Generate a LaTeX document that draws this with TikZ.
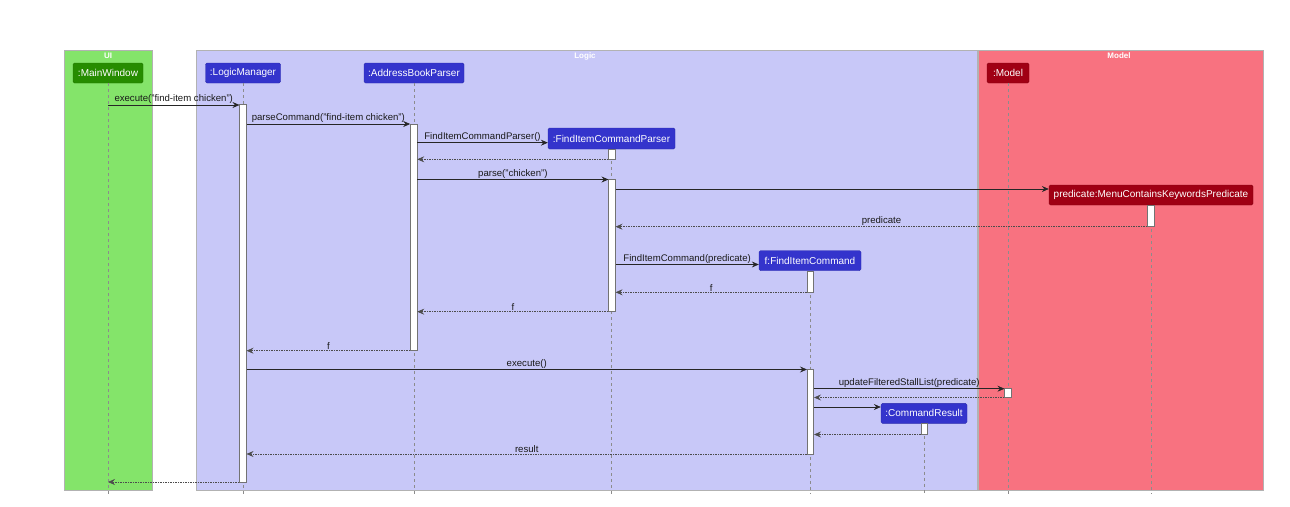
\documentclass[tikz,border=0pt]{standalone}
\usepackage{fontspec}
\setmainfont{Liberation Sans}
\usetikzlibrary{arrows.meta}
\definecolor{uifill}{RGB}{132,228,106}
\definecolor{logicfill}{RGB}{200,200,248}
\definecolor{modelfill}{RGB}{248,114,128}
\definecolor{uipart}{RGB}{38,140,0}
\definecolor{logicpart}{RGB}{52,52,204}
\definecolor{modelpart}{RGB}{160,0,20}
\begin{document}
\begin{tikzpicture}[x=1pt,y=-1pt,
  frame/.style={draw=black!30, line width=0.8pt},
  ftitle/.style={text=white, font=\fontsize{8}{9}\selectfont\bfseries, inner sep=0pt},
  part/.style={fill=#1, draw=#1!85!black, text=white, rounded corners=1.5pt, minimum height=20pt, inner xsep=2pt, inner ysep=0pt, font=\fontsize{10}{11}\selectfont},
  life/.style={draw=black!45, dash pattern=on 3pt off 3pt, line width=0.5pt},
  act/.style={draw=black!55, fill=white, minimum width=6.5pt, inner sep=0pt, line width=0.6pt},
  msg/.style={draw=black!85, line width=0.6pt, -{Stealth[length=7pt,width=6pt,inset=2.5pt]}},
  ret/.style={msg, dash pattern=on 1.5pt off 1pt, draw=black!70},
  lbl/.style={above, inner sep=1pt, text=black!90, font=\fontsize{9.6}{11}\selectfont}
]
\useasboundingbox (0,0) rectangle (1290,506);
\fill[white] (0,0) rectangle (1290,506);
% frames
\filldraw[fill=uifill, frame] (64.5,50) rectangle (152,490);
\filldraw[fill=logicfill, frame] (196,50) rectangle (977,490);
\filldraw[fill=modelfill, frame] (978,50) rectangle (1263,490);
\node[ftitle] (tUI) at (108,56) {UI};
\node[ftitle] (tLogic) at (585,56) {Logic};
\node[ftitle] (tModel) at (1119,56) {Model};
% participants
\node[part=uipart, minimum width=70pt] (mw) at (108,73) {:MainWindow};
\node[part=logicpart, minimum width=75pt] (lm) at (243,73) {:LogicManager};
\node[part=logicpart, minimum width=100pt] (abp) at (414,73) {:AddressBookParser};
\node[part=logicpart, minimum width=127pt, minimum height=21pt] (ficp) at (611.5,138.5) {:FindItemCommandParser};
\node[part=modelpart, minimum width=204pt] (pred) at (1151,195) {predicate:MenuContainsKeywordsPredicate};
\node[part=logicpart, minimum width=102pt] (fic) at (810,260.7) {f:FindItemCommand};
\node[part=modelpart, minimum width=42pt] (model) at (1008,73) {:Model};
\node[part=logicpart, minimum width=86pt] (cr) at (924,413.3) {:CommandResult};
% lifelines
\foreach \p in {mw,lm,abp,ficp,pred,fic,model,cr}{
  \draw[life] (\p.south) -- (\p.south |- 0,494);
}
% activations
\node[act, minimum height=378pt] (aLM) at (243,293) {};
\node[act, minimum height=226.7pt] (aABP) at (413.7,237.3) {};
\node[act, minimum height=10.3pt] (aFICPa) at (612,154.2) {};
\node[act, minimum height=132.4pt] (aFICPb) at (612,245.5) {};
\node[act, minimum height=21.7pt] (aPred) at (1151,215.8) {};
\node[act, minimum height=21.3pt] (aFICa) at (810.5,281.6) {};
\node[act, minimum height=84.7pt] (aFICb) at (810.5,411.6) {};
\node[act, minimum height=9pt] (aModel) at (1008,393.2) {};
\node[act, minimum height=11.4pt] (aCR) at (924.5,429) {};
% messages
\draw[msg] (mw |- 0,105) -- node[lbl]{execute("find-item chicken")} (aLM.west |- 0,105);
\draw[msg] (aLM.east |- 0,124) -- node[lbl]{parseCommand("find-item chicken")} (aABP.west |- 0,124);
\draw[msg] (aABP.east |- 0,142.7) -- node[lbl]{FindItemCommandParser()} (ficp.west |- 0,142.7);
\draw[ret] (aFICPa.west |- 0,159.3) -- (aABP.east |- 0,159.3);
\draw[msg] (aABP.east |- 0,179.5) -- node[lbl]{parse("chicken")} (aFICPb.west |- 0,179.5);
\draw[msg] (aFICPb.east |- 0,189) -- (pred.west |- 0,189);
\draw[ret] (aPred.west |- 0,226.7) -- node[lbl]{predicate} (aFICPb.east |- 0,226.7);
\draw[msg] (aFICPb.east |- 0,264.5) -- node[lbl]{FindItemCommand(predicate)} (fic.west |- 0,264.5);
\draw[ret] (aFICa.west |- 0,292.3) -- node[lbl]{f} (aFICPb.east |- 0,292.3);
\draw[ret] (aFICPb.west |- 0,311.7) -- node[lbl]{f} (aABP.east |- 0,311.7);
\draw[ret] (aABP.west |- 0,350.7) -- node[lbl]{f} (aLM.east |- 0,350.7);
\draw[msg] (aLM.east |- 0,369.5) -- node[lbl]{execute()} (aFICb.west |- 0,369.5);
\draw[msg] (aFICb.east |- 0,388.7) -- node[lbl]{updateFilteredStallList(predicate)} (aModel.west |- 0,388.7);
\draw[ret] (aModel.west |- 0,397.5) -- (aFICb.east |- 0,397.5);
\draw[msg] (aFICb.east |- 0,407) -- (cr.west |- 0,407);
\draw[ret] (aCR.west |- 0,434.5) -- (aFICb.east |- 0,434.5);
\draw[ret] (aFICb.west |- 0,454) -- node[lbl]{result} (aLM.east |- 0,454);
\draw[ret] (aLM.west |- 0,482) -- (mw |- 0,482);
\end{tikzpicture}
\end{document}
